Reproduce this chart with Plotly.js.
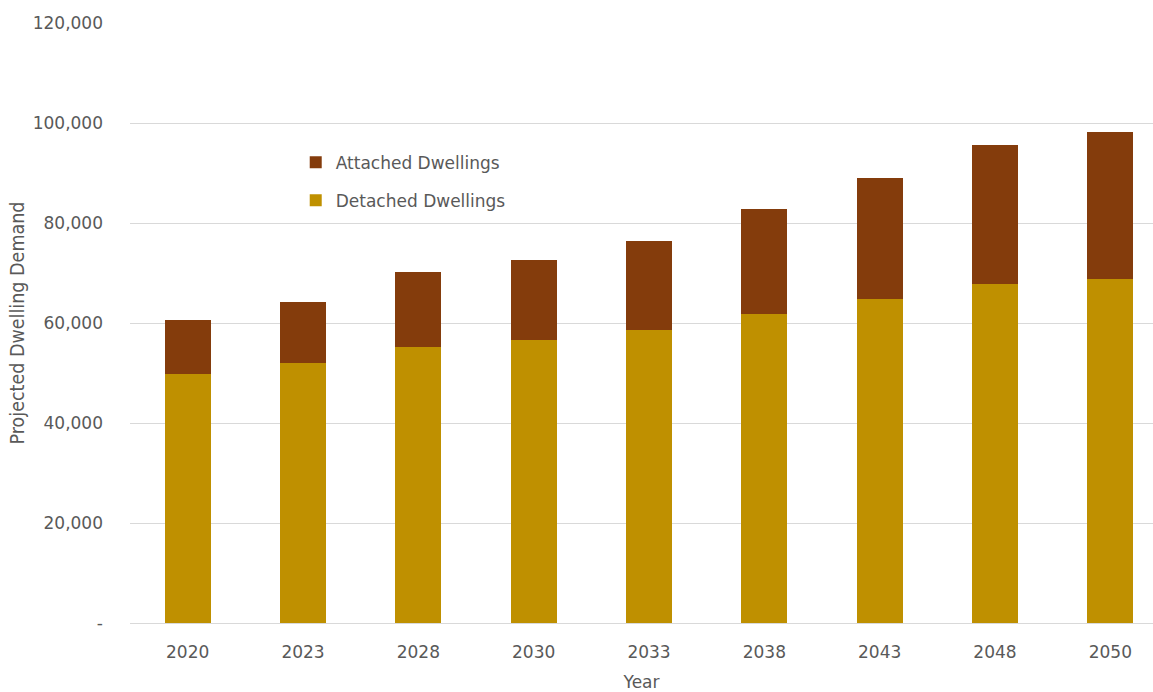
<!DOCTYPE html>
<html>
<head>
<meta charset="utf-8">
<script src="https://cdn.plot.ly/plotly-3.0.1.min.js"></script>
<style>html,body{margin:0;padding:0;background:#fff;}#chart{width:1153px;height:692px;}</style>
</head>
<body>
<div id="chart"></div>
<script>
const years = ["2020","2023","2028","2030","2033","2038","2043","2048","2050"];
const detached = [49900, 52000, 55300, 56700, 58600, 61900, 64800, 67800, 68900];
const attached = [10800, 12200, 14900, 16000, 17900, 21000, 24300, 27800, 29300];
const yTickVals = [0, 20000, 40000, 60000, 80000, 100000, 120000];
const yTickText = ["-", "20,000", "40,000", "60,000", "80,000", "100,000", "120,000"];

const fontFam = "DejaVu Sans, Open Sans, sans-serif";
const txtColor = "#595959";

const traces = [
  {type: "bar", name: "Detached Dwellings", x: years, y: detached,
   marker: {color: "#BF9000"}, legend: "legend2", hoverinfo: "skip"},
  {type: "bar", name: "Attached Dwellings", x: years, y: attached,
   marker: {color: "#843C0C"}, legend: "legend", hoverinfo: "skip"}
];

const layout = {
  width: 1153, height: 692,
  margin: {l: 130, r: 0, t: 23, b: 69},
  barmode: "stack",
  bargap: 0.6,
  paper_bgcolor: "#fff", plot_bgcolor: "#fff",
  font: {family: fontFam, color: txtColor, size: 17},
  xaxis: {
    type: "category",
    range: [-0.5, 8.37],
    showgrid: false, zeroline: false,
    showline: true, linecolor: "#d9d9d9", linewidth: 1,
    ticks: "", ticklabelstandoff: 14,
    tickfont: {size: 17, color: txtColor},
    automargin: false,
    title: {text: "Year", font: {size: 17, color: txtColor}, standoff: 16}
  },
  yaxis: {
    range: [0, 120000],
    tickvals: yTickVals, ticktext: yTickText,
    showgrid: true, gridcolor: "#d9d9d9", gridwidth: 1,
    zeroline: false, showline: false, ticks: "",
    ticklabelstandoff: 26,
    tickfont: {size: 17, color: txtColor},
    automargin: false,
    title: {text: "Projected Dwelling Demand",
            font: {family: "DejaVu Sans Condensed, Liberation Sans Narrow, sans-serif", size: 19.5, color: txtColor},
            standoff: 2}
  },
  showlegend: true,
  legend: {x: 0.162, y: 0.767, xanchor: "left", yanchor: "middle",
           bgcolor: "rgba(0,0,0,0)", font: {size: 17, color: txtColor}},
  legend2: {x: 0.162, y: 0.704, xanchor: "left", yanchor: "middle",
           bgcolor: "rgba(0,0,0,0)", font: {size: 17, color: txtColor}}
};

Plotly.newPlot("chart", traces, layout, {displayModeBar: false, staticPlot: true});
</script>
</body>
</html>
